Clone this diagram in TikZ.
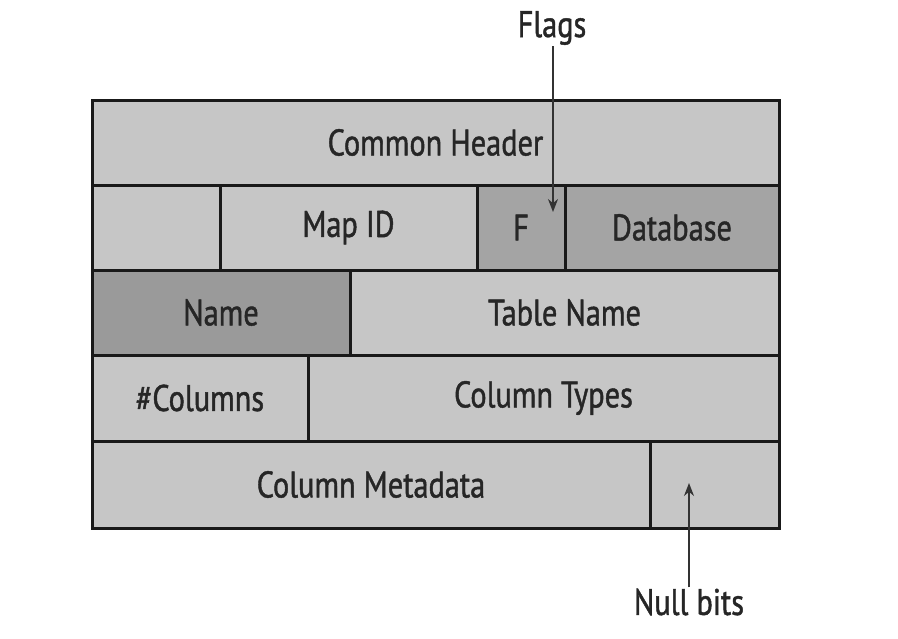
\documentclass[tikz,border=0pt]{standalone}
\usepackage{fontspec}
\setmainfont{PT Sans}[FakeStretch=0.82,FakeBold=1.2]
\usetikzlibrary{arrows.meta}
\definecolor{lightcell}{HTML}{C6C6C6}
\definecolor{midcell}{HTML}{A4A4A4}
\definecolor{darkcell}{HTML}{9A9A9A}
\tikzset{
  cellbox/.style={draw=black!90, line width=3pt, inner sep=0pt, outer sep=0pt},
  labeltext/.style={inner sep=1pt, font=\fontsize{37}{40}\selectfont, text=black!85},
  pointer/.style={draw=black!80, line width=1.5pt, -{Stealth[length=13pt,width=10pt]}}
}
\newcommand{\mkcell}[6]{%
  \node[cellbox, fill=#6, minimum width={(#3-#1)*1pt}, minimum height={(#4-#2)*1pt}]
    (#5) at ({(#1+#3)/2},{(#2+#4)/2}) {};}
\begin{document}
\begin{tikzpicture}[x=1pt,y=-1pt]
\useasboundingbox[fill=white] (0,0) rectangle (898,638);
\mkcell{92}{100}{779}{185}{ch}{lightcell}
\mkcell{92}{185}{220}{270}{blank}{lightcell}
\mkcell{220}{185}{477}{270}{mapid}{lightcell}
\mkcell{477}{185}{565}{270}{fcell}{midcell}
\mkcell{565}{185}{779}{270}{db}{midcell}
\mkcell{92}{270}{350}{355}{namecell}{darkcell}
\mkcell{350}{270}{779}{355}{tablecell}{lightcell}
\mkcell{92}{355}{308}{441}{ncols}{lightcell}
\mkcell{308}{355}{779}{441}{ctypes}{lightcell}
\mkcell{92}{441}{650}{528}{cmeta}{lightcell}
\mkcell{650}{441}{779}{528}{nullb}{lightcell}
\node[labeltext] (tch) at (ch.center) {Common Header};
\node[labeltext] (tmap) at (mapid.center) {Map ID};
\node[labeltext] (tf) at (fcell.center) {F};
\node[labeltext] (tdb) at (db.center) {Database};
\node[labeltext] (tnm) at (namecell.center) {Name};
\node[labeltext] (ttbl) at (tablecell.center) {Table Name};
\node[labeltext] (tcols) at (ncols.center) {\#Columns};
\node[labeltext] (ttypes) at (ctypes.center) {Column Types};
\node[labeltext] (tmeta) at (cmeta.center) {Column Metadata};
\node[labeltext] (flags) at (552,28) {Flags};
\node[labeltext] (nullbits) at (689,602) {Null bits};
\coordinate (ftip) at (553,212);
\coordinate (ntip) at (689,483);
\draw[pointer] (flags.south -| ftip) -- (ftip);
\draw[pointer] (nullbits.north -| ntip) -- (ntip);
\end{tikzpicture}
\end{document}
